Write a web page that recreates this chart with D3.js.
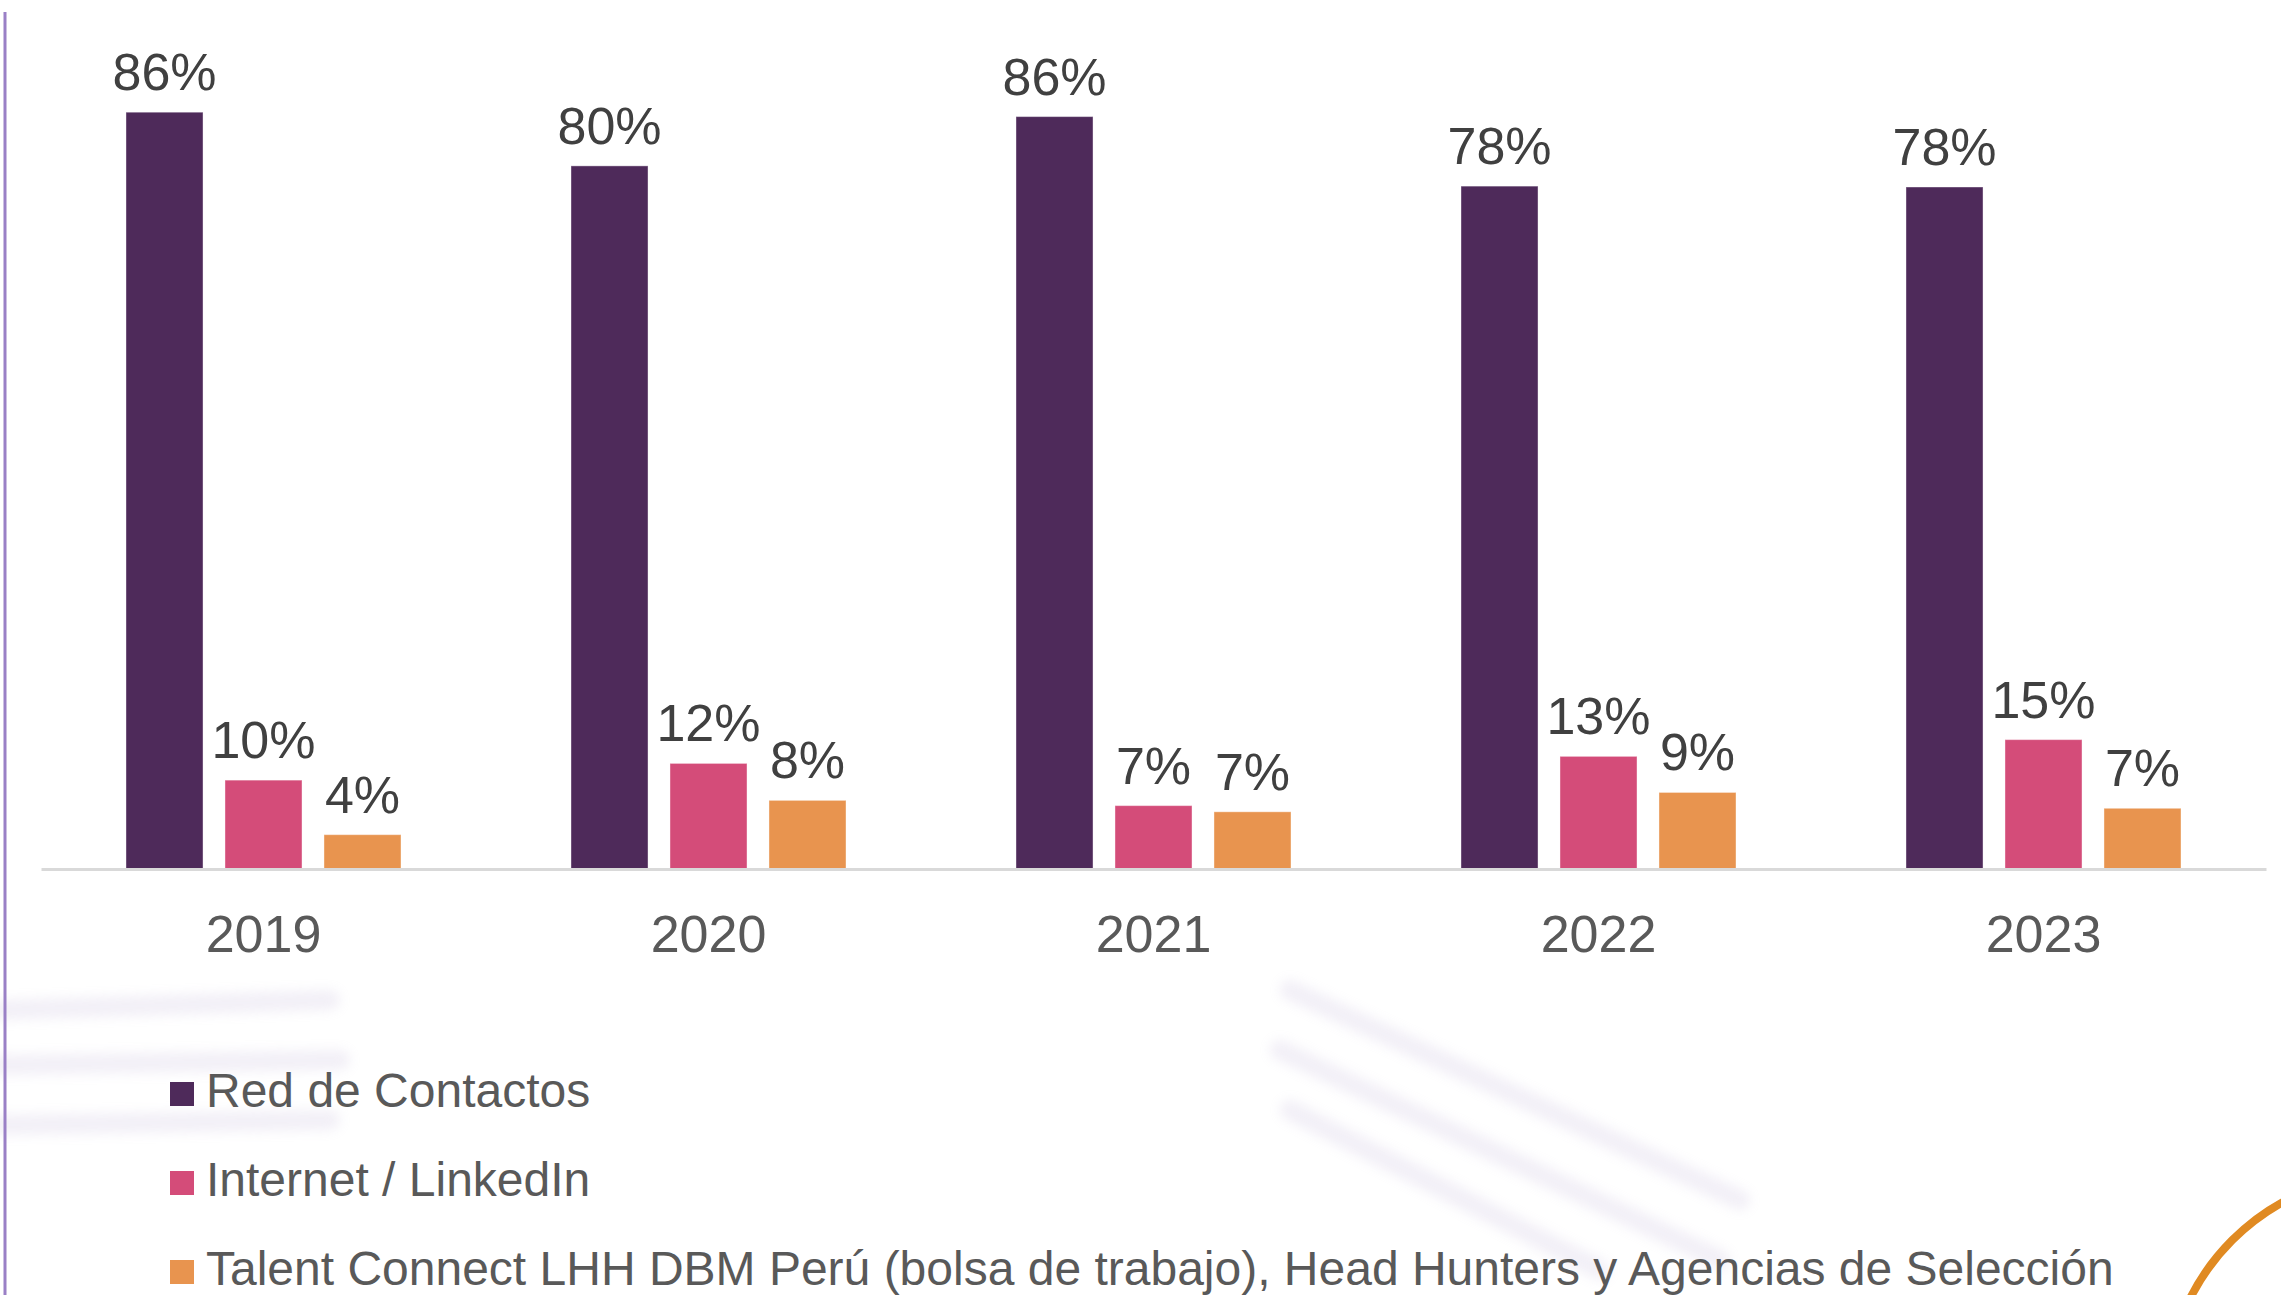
<!DOCTYPE html>
<html>
<head>
<meta charset="utf-8">
<script src="https://cdn.jsdelivr.net/npm/d3@7"></script>
<style>
  html, body { margin: 0; padding: 0; background: #ffffff; }
  svg { display: block; }
  text { font-family: "Liberation Sans", Arial, sans-serif; }
</style>
</head>
<body>
<div id="chart"></div>
<script>
// data
var years = ["2019", "2020", "2021", "2022", "2023"];
var seriesNames = [
    "Red de Contactos",
    "Internet / LinkedIn",
    "Talent Connect LHH DBM Perú (bolsa de trabajo), Head Hunters y Agencias de Selección"
];
var redContactos = [86.0, 79.9, 85.5, 77.6, 77.5];
var internetLinkedin = [10.1, 12.0, 7.2, 12.8, 14.7];
var talentConnect = [3.9, 7.8, 6.5, 8.7, 6.9];
var seriesColors = ["#4e2a5a", "#d44c79", "#e8944f"];

var width = 2281, height = 1295;
var baseY = 869;

var svg = d3.select("#chart").append("svg")
    .attr("width", width)
    .attr("height", height);

// faint background brush texture
var defs = svg.append("defs");
defs.append("filter").attr("id", "soft")
    .append("feGaussianBlur").attr("stdDeviation", 6);

var texture = svg.append("g").attr("filter", "url(#soft)").attr("opacity", 0.18);
var strokes = [
    [[0, 1010], [330, 1000]],
    [[0, 1065], [340, 1060]],
    [[0, 1125], [330, 1120]],
    [[1290, 990], [1740, 1200]],
    [[1280, 1050], [1720, 1260]],
    [[1290, 1110], [1600, 1270]]
];
strokes.forEach(function (s) {
    texture.append("line")
        .attr("x1", s[0][0]).attr("y1", s[0][1])
        .attr("x2", s[1][0]).attr("y2", s[1][1])
        .attr("stroke", "#b9abd3")
        .attr("stroke-width", 20)
        .attr("stroke-linecap", "round");
});

// left edge line
svg.append("line")
    .attr("x1", 5).attr("x2", 5)
    .attr("y1", 12).attr("y2", height)
    .attr("stroke", "#9a80c6")
    .attr("stroke-width", 3);

// orange arc, bottom right
svg.append("circle")
    .attr("cx", 2392).attr("cy", 1400).attr("r", 226)
    .attr("fill", "none")
    .attr("stroke", "#e08a22")
    .attr("stroke-width", 8);

var x0 = d3.scaleBand()
    .domain(years)
    .range([41, 2266])
    .paddingInner(0.382)
    .paddingOuter(0.191);

var x1 = d3.scaleBand()
    .domain(d3.range(3))
    .range([0, x0.bandwidth()])
    .paddingInner(0.222)
    .paddingOuter(0);

var y = d3.scaleLinear()
    .domain([0, 100])
    .range([baseY, baseY - 880]);

var allSeries = [redContactos, internetLinkedin, talentConnect];

var groups = svg.selectAll("g.year")
    .data(years)
    .enter().append("g")
    .attr("class", "year")
    .attr("transform", function (d) { return "translate(" + x0(d) + ",0)"; });

groups.selectAll("rect")
    .data(function (d, i) {
        return allSeries.map(function (s, k) { return { k: k, v: s[i] }; });
    })
    .enter().append("rect")
    .attr("x", function (d) { return x1(d.k); })
    .attr("y", function (d) { return y(d.v); })
    .attr("width", x1.bandwidth())
    .attr("height", function (d) { return baseY - y(d.v); })
    .attr("fill", function (d) { return seriesColors[d.k]; })
    .attr("stroke", "#ffffff")
    .attr("stroke-opacity", 0.4)
    .attr("stroke-width", 1);

groups.selectAll("text.val")
    .data(function (d, i) {
        return allSeries.map(function (s, k) { return { k: k, v: s[i] }; });
    })
    .enter().append("text")
    .attr("class", "val")
    .attr("x", function (d) { return x1(d.k) + x1.bandwidth() / 2; })
    .attr("y", function (d) { return y(d.v) - 22; })
    .attr("text-anchor", "middle")
    .attr("font-size", 52)
    .attr("fill", "#404040")
    .text(function (d) { return Math.round(d.v) + "%"; });

// x axis
var xAxis = svg.append("g")
    .attr("transform", "translate(0," + baseY + ")")
    .call(d3.axisBottom(x0).tickSize(0).tickPadding(46));
xAxis.select(".domain").attr("stroke", "#d9d9d9").attr("stroke-width", 3);
xAxis.selectAll("text")
    .attr("font-size", 52)
    .attr("fill", "#595959")
    .attr("font-family", "Liberation Sans, Arial, sans-serif");

// legend
var legend = svg.selectAll("g.legend")
    .data(seriesNames)
    .enter().append("g")
    .attr("class", "legend")
    .attr("transform", function (d, i) { return "translate(170," + (1107 + i * 89) + ")"; });

legend.append("rect")
    .attr("x", 0).attr("y", -25)
    .attr("width", 24).attr("height", 24)
    .attr("fill", function (d, i) { return seriesColors[i]; });

legend.append("text")
    .attr("x", 36).attr("y", 0)
    .attr("font-size", 48)
    .attr("fill", "#595959")
    .text(function (d) { return d; });
</script>
</body>
</html>
